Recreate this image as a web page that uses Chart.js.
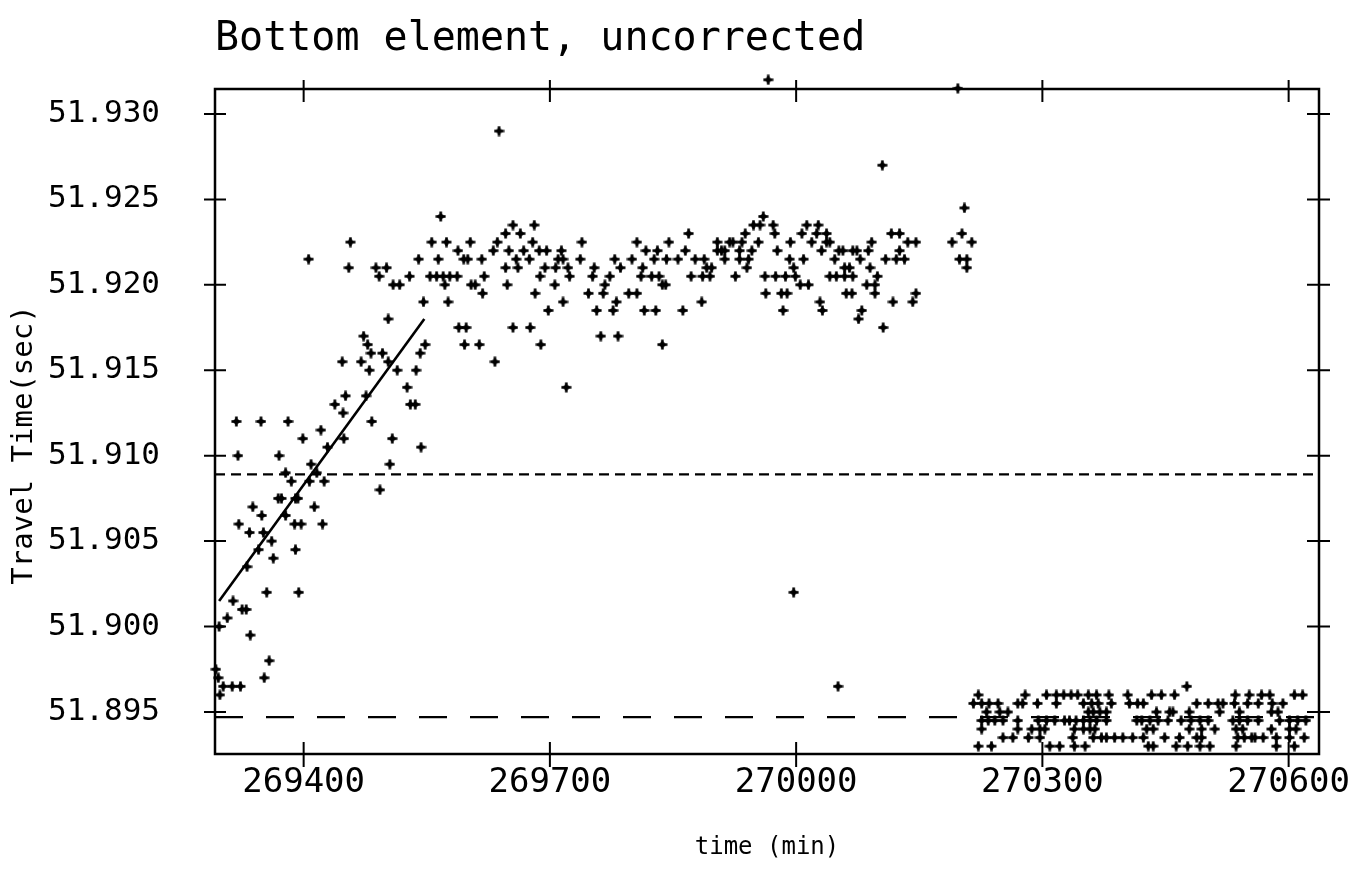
<!DOCTYPE html>
<html>
<head>
<meta charset="utf-8">
<script src="https://cdn.jsdelivr.net/npm/chart.js@4/dist/chart.umd.min.js"></script>
<style>
  html, body { margin: 0; padding: 0; background: #fff; }
  #wrap { width: 1350px; height: 888px; }
</style>
</head>
<body>
<div id="wrap"><canvas id="myChart" width="1350" height="888"></canvas></div>
<script>
// tick labels
const X_TICKS = [269400, 269700, 270000, 270300, 270600]
const Y_TICKS = [51.895, 51.900, 51.905, 51.910, 51.915, 51.920, 51.925, 51.930]

// rising part, first ~250 min
const earlyTime = [
  269318, 269348, 269381, 269320, 269370, 269399, 269421, 269438, 269448, 269449,
  269429, 269483, 269508, 269543, 269505, 269493, 269530, 269536, 269378, 269385,
  269409, 269407, 269425, 269416, 269369, 269373, 269390, 269393, 269338, 269349,
  269413, 269378, 269321, 269334, 269351, 269389, 269397, 269423, 269361, 269345,
  269390, 269363, 269331, 269355, 269394, 269314, 269325, 269330, 269307, 269335,
  269297, 269358, 269352, 269293, 269296, 269302, 269313, 269323, 269298,
  269406, 269457, 269455, 269488, 269501, 269492, 269509, 269517, 269529, 269540,
  269567, 269556, 269574, 269564, 269554, 269562, 269570, 269578, 269587, 269572,
  269546, 269576, 269588, 269595, 269600, 269603, 269617, 269604, 269609, 269620,
  269618, 269631, 269636, 269646, 269655, 269664, 269681, 269650, 269668, 269679,
  269687, 269696, 269659, 269675, 269646, 269661, 269694, 269688, 269648, 269682,
  269698, 269589, 269598, 269655, 269676, 269596, 269614, 269689, 269633, 269548,
  269542, 269537, 269526, 269503, 269473, 269478, 269482, 269496, 269447, 269470,
  269503, 269480, 269514, 269451, 269476, 269638
]
const earlyTravel = [
  51.912, 51.912, 51.912, 51.910, 51.910, 51.911, 51.9115, 51.913, 51.9125, 51.911,
  51.9105, 51.912, 51.911, 51.9105, 51.9095, 51.908, 51.913, 51.913, 51.909, 51.9085,
  51.9095, 51.9085, 51.9085, 51.909, 51.9075, 51.9075, 51.9075, 51.9075, 51.907, 51.9065,
  51.907, 51.9065, 51.906, 51.9055, 51.9055, 51.906, 51.906, 51.906, 51.905, 51.9045,
  51.9045, 51.904, 51.9035, 51.902, 51.902, 51.9015, 51.901, 51.901, 51.9005, 51.8995,
  51.900, 51.898, 51.897, 51.8975, 51.897, 51.8965, 51.8965, 51.8965, 51.896,
  51.9215, 51.9225, 51.921, 51.921, 51.921, 51.9205, 51.920, 51.920, 51.9205, 51.9215,
  51.924, 51.9225, 51.9225, 51.9215, 51.9205, 51.9205, 51.9205, 51.9205, 51.9205, 51.920,
  51.919, 51.919, 51.922, 51.9215, 51.9215, 51.9225, 51.9215, 51.920, 51.920, 51.9205,
  51.9195, 51.922, 51.9225, 51.923, 51.9235, 51.923, 51.9235, 51.922, 51.922, 51.9225,
  51.922, 51.922, 51.9215, 51.9215, 51.921, 51.921, 51.921, 51.9205, 51.920, 51.9195,
  51.9185, 51.9175, 51.9175, 51.9175, 51.9175, 51.9165, 51.9165, 51.9165, 51.9155, 51.9165,
  51.916, 51.915, 51.914, 51.918, 51.917, 51.9165, 51.916, 51.916, 51.9155, 51.9155,
  51.9155, 51.915, 51.915, 51.9135, 51.9135, 51.929
]

// plateau, 269700 - 270220
const plateauTime = [
  269966, 270105, 269714, 269710, 269716, 269707, 269722, 269724, 269706, 269716,
  269739, 269737, 269754, 269752, 269747, 269767, 269765, 269773, 269779, 269786,
  269757, 269777, 269781, 269762, 269783, 269800, 269806, 269817, 269813, 269811,
  269796, 269806, 269815, 269829, 269827, 269831, 269824, 269833, 269837, 269841,
  269837, 269842, 269845, 269856, 269865, 269869, 269862, 269872, 269877, 269885,
  269888, 269891, 269897, 269886, 269895, 269904, 269904, 269909, 269913, 269913,
  269919, 269923, 269926, 269931, 269934, 269931, 269938, 269942, 269940, 269946,
  269954, 269948, 269956, 269960, 269972, 269974, 269962, 269975, 269977, 269963,
  269982, 269989, 269984, 269987, 269993, 269992, 269997, 269999, 270005, 270015,
  270009, 270007, 270013, 270019, 270027, 270025, 270031, 270037, 270037, 270041,
  270029, 270032, 270041, 270049, 270059, 270069, 270047, 270052, 270057, 270059,
  270065, 270061, 270068, 270069, 270074, 270078, 270088, 270092, 270090, 270086,
  270096, 270099, 270096, 270080, 270076, 270106, 270109, 270116, 270126, 270126,
  270122, 270132, 270136, 270146, 270118, 270142, 270146, 270190, 270205, 270202,
  270214, 270199, 270208, 270208, 270197, 269720, 269997, 270051
]
const plateauTravel = [
  51.932, 51.927, 51.922, 51.9215, 51.9215, 51.921, 51.921, 51.9205, 51.920, 51.919,
  51.9225, 51.9215, 51.921, 51.9205, 51.9195, 51.920, 51.9195, 51.9205, 51.9215, 51.921,
  51.9185, 51.9185, 51.919, 51.917, 51.917, 51.9215, 51.9225, 51.922, 51.921, 51.9205,
  51.9195, 51.9195, 51.9185, 51.9185, 51.9215, 51.922, 51.9205, 51.9205, 51.920, 51.920,
  51.9165, 51.9215, 51.9225, 51.9215, 51.922, 51.923, 51.9185, 51.9205, 51.9215, 51.919,
  51.9215, 51.921, 51.921, 51.9205, 51.9205, 51.9225, 51.922, 51.922, 51.922, 51.9215,
  51.9225, 51.9225, 51.9205, 51.922, 51.9225, 51.9215, 51.923, 51.9215, 51.921, 51.922,
  51.9225, 51.9235, 51.9235, 51.924, 51.9235, 51.923, 51.9205, 51.9205, 51.922, 51.9195,
  51.9195, 51.9195, 51.9185, 51.9205, 51.9225, 51.9215, 51.921, 51.9205, 51.920, 51.920,
  51.9215, 51.923, 51.9235, 51.9225, 51.9235, 51.923, 51.922, 51.923, 51.9225, 51.9225,
  51.919, 51.9185, 51.9205, 51.9205, 51.9205, 51.9205, 51.9215, 51.922, 51.922, 51.921,
  51.921, 51.9195, 51.9195, 51.922, 51.922, 51.9215, 51.922, 51.9225, 51.921, 51.920,
  51.920, 51.9205, 51.9195, 51.9185, 51.918, 51.9175, 51.9215, 51.923, 51.923, 51.922,
  51.9215, 51.9215, 51.9225, 51.9225, 51.919, 51.919, 51.9195, 51.9225, 51.9245, 51.923,
  51.9225, 51.9215, 51.9215, 51.921, 51.9315, 51.914, 51.902, 51.8965
]

// after the jump, 270210 - 270630
const lateTime = [
  270222, 270279, 270305, 270317, 270326, 270335, 270343, 270356, 270366, 270381, 270404,
  270216, 270226, 270235, 270246, 270270, 270276, 270294, 270317, 270350, 270360, 270368, 270384, 270406,
  270232, 270248, 270258, 270356, 270362, 270370, 270378,
  270226, 270234, 270242, 270252, 270270, 270295, 270305, 270315, 270327, 270333, 270341, 270350, 270358, 270366, 270378, 270415,
  270226, 270270, 270287, 270297, 270303, 270339, 270350, 270358, 270364,
  270252, 270264, 270283, 270297, 270337, 270362, 270372, 270378, 270388, 270398, 270410,
  270222, 270238, 270309, 270321, 270339, 270352,
  270476,
  270433, 270445, 270461, 270535, 270552, 270567, 270577, 270607, 270617,
  270416, 270423, 270488, 270502, 270514, 270520, 270534, 270550, 270563, 270580, 270593,
  270439, 270455, 270459, 270479, 270516, 270540, 270579, 270587,
  270421, 270431, 270441, 270453, 270469, 270481, 270492, 270502, 270532, 270540, 270550, 270563, 270589, 270601, 270611, 270621,
  270427, 270435, 270479, 270494, 270510, 270536, 270544, 270579, 270601, 270609,
  270423, 270449, 270467, 270488, 270494, 270538, 270546, 270555, 270559, 270569, 270585, 270601, 270619,
  270429, 270435, 270463, 270477, 270492, 270504, 270536, 270585, 270607
]
const lateTravel = [
  51.896, 51.896, 51.896, 51.896, 51.896, 51.896, 51.896, 51.896, 51.896, 51.896, 51.896,
  51.8955, 51.8955, 51.8955, 51.8955, 51.8955, 51.8955, 51.8955, 51.8955, 51.8955, 51.8955, 51.8955, 51.8955, 51.8955,
  51.895, 51.895, 51.895, 51.895, 51.895, 51.895, 51.895,
  51.8945, 51.8945, 51.8945, 51.8945, 51.8945, 51.8945, 51.8945, 51.8945, 51.8945, 51.8945, 51.8945, 51.8945, 51.8945, 51.8945, 51.8945, 51.8945,
  51.894, 51.894, 51.894, 51.894, 51.894, 51.894, 51.894, 51.894, 51.894,
  51.8935, 51.8935, 51.8935, 51.8935, 51.8935, 51.8935, 51.8935, 51.8935, 51.8935, 51.8935, 51.8935,
  51.893, 51.893, 51.893, 51.893, 51.893, 51.893,
  51.8965,
  51.896, 51.896, 51.896, 51.896, 51.896, 51.896, 51.896, 51.896, 51.896,
  51.8955, 51.8955, 51.8955, 51.8955, 51.8955, 51.8955, 51.8955, 51.8955, 51.8955, 51.8955, 51.8955,
  51.895, 51.895, 51.895, 51.895, 51.895, 51.895, 51.895, 51.895,
  51.8945, 51.8945, 51.8945, 51.8945, 51.8945, 51.8945, 51.8945, 51.8945, 51.8945, 51.8945, 51.8945, 51.8945, 51.8945, 51.8945, 51.8945, 51.8945,
  51.894, 51.894, 51.894, 51.894, 51.894, 51.894, 51.894, 51.894, 51.894, 51.894,
  51.8935, 51.8935, 51.8935, 51.8935, 51.8935, 51.8935, 51.8935, 51.8935, 51.8935, 51.8935, 51.8935, 51.8935, 51.8935,
  51.893, 51.893, 51.893, 51.893, 51.893, 51.893, 51.893, 51.893, 51.893
]

// fitted ramp and the two reference levels
const fitTime = [269297, 269547]
const fitTravel = [51.9015, 51.918]
const upperLevel = 51.9089
const lowerLevel = 51.8947
const X_MIN = 269292
const X_MAX = 270637

const MONO = "'DejaVu Sans Mono', monospace"

function pairs(xs, ys) {
  return xs.map((x, i) => ({x: x, y: ys[i]}))
}

// bold "+" with a filled middle, like the plotter marker
function makeMarker() {
  const c = document.createElement('canvas')
  c.width = 11
  c.height = 11
  const g = c.getContext('2d')
  g.fillStyle = '#000'
  g.fillRect(4.2, 0.5, 2.6, 10)
  g.fillRect(0.5, 4.2, 10, 2.6)
  g.beginPath()
  g.moveTo(5.5, 1.6); g.lineTo(9.4, 5.5); g.lineTo(5.5, 9.4); g.lineTo(1.6, 5.5)
  g.closePath()
  g.fill()
  return c
}
const marker = makeMarker()

// box round the plot with ticks crossing it, plus the y title
const frame = {
  id: 'frame',
  afterDatasetsDraw(chart) {
    const ctx = chart.ctx
    const a = chart.chartArea
    const xs = chart.scales.x
    const ys = chart.scales.y
    ctx.save()
    ctx.strokeStyle = '#000'
    ctx.lineWidth = 2.5
    ctx.strokeRect(a.left, a.top, a.right - a.left, a.bottom - a.top)
    ctx.lineWidth = 2
    ctx.beginPath()
    X_TICKS.forEach(v => {
      const px = xs.getPixelForValue(v)
      ctx.moveTo(px, a.bottom - 12); ctx.lineTo(px, a.bottom + 13)
      ctx.moveTo(px, a.top - 9); ctx.lineTo(px, a.top + 13)
    })
    Y_TICKS.forEach(v => {
      const py = ys.getPixelForValue(v)
      ctx.moveTo(a.left - 11, py); ctx.lineTo(a.left + 11, py)
      ctx.moveTo(a.right - 12, py); ctx.lineTo(a.right + 11, py)
    })
    ctx.stroke()

    ctx.translate(24, 445)
    ctx.rotate(-Math.PI / 2)
    ctx.fillStyle = '#000'
    ctx.font = '29px ' + MONO
    ctx.textAlign = 'center'
    ctx.textBaseline = 'middle'
    ctx.fillText('Travel Time(sec)', 0, 0)
    ctx.restore()
  }
}

const ctx = document.getElementById('myChart').getContext('2d')
const chart = new Chart(ctx, {
  type: 'scatter',
  data: {
    datasets: [
      {
        label: 'mean',
        data: [{x: X_MIN, y: upperLevel}, {x: X_MAX, y: upperLevel}],
        showLine: true,
        borderColor: '#000',
        borderWidth: 2.2,
        borderDash: [10, 6],
        pointRadius: 0
      },
      {
        label: 'corrected level',
        data: [{x: X_MIN, y: lowerLevel}, {x: X_MAX, y: lowerLevel}],
        showLine: true,
        borderColor: '#000',
        borderWidth: 2.2,
        borderDash: [28, 23],
        pointRadius: 0
      },
      {
        label: 'fit',
        data: pairs(fitTime, fitTravel),
        showLine: true,
        borderColor: '#000',
        borderWidth: 2.6,
        pointRadius: 0
      },
      {
        label: 'travel time',
        data: pairs(earlyTime, earlyTravel).concat(pairs(plateauTime, plateauTravel), pairs(lateTime, lateTravel)),
        pointStyle: marker,
        // image markers keep their own size; the radius only widens the
        // margin so points sitting just above the frame still get drawn
        pointRadius: 12,
        clip: false
      }
    ]
  },
  options: {
    responsive: false,
    animation: false,
    devicePixelRatio: 1,
    layout: { padding: { left: 0, right: 31, top: 0, bottom: 0 } },
    plugins: {
      legend: { display: false },
      tooltip: { enabled: false },
      title: {
        display: true,
        text: 'Bottom element, uncorrected',
        align: 'start',
        fullSize: false,
        color: '#000',
        font: { family: MONO, size: 40, weight: 'normal' },
        padding: { top: 16, bottom: 25 }
      }
    },
    scales: {
      x: {
        type: 'linear',
        min: X_MIN,
        max: X_MAX,
        afterBuildTicks: s => { s.ticks = X_TICKS.map(v => ({value: v})) },
        afterFit: s => { s.height = 134; s.paddingLeft = 0; s.paddingRight = 0 },
        grid: { display: false, drawTicks: false },
        border: { display: false },
        ticks: {
          color: '#000',
          padding: 9,
          maxRotation: 0,
          font: { family: MONO, size: 34 },
          callback: v => String(v)
        },
        title: {
          display: true,
          text: 'time (min)',
          color: '#000',
          font: { family: MONO, size: 24 },
          padding: { top: 26, bottom: 26 }
        }
      },
      y: {
        type: 'linear',
        min: 51.89254,
        max: 51.93146,
        afterBuildTicks: s => { s.ticks = Y_TICKS.map(v => ({value: v})) },
        afterFit: s => { s.width = 215; s.paddingTop = 0; s.paddingBottom = 0 },
        grid: { display: false, drawTicks: false },
        border: { display: false },
        ticks: {
          color: '#000',
          padding: 55,
          font: { family: MONO, size: 31 },
          callback: v => v.toFixed(3)
        },
        title: { display: false }
      }
    }
  },
  plugins: [frame]
})
</script>
</body>
</html>
